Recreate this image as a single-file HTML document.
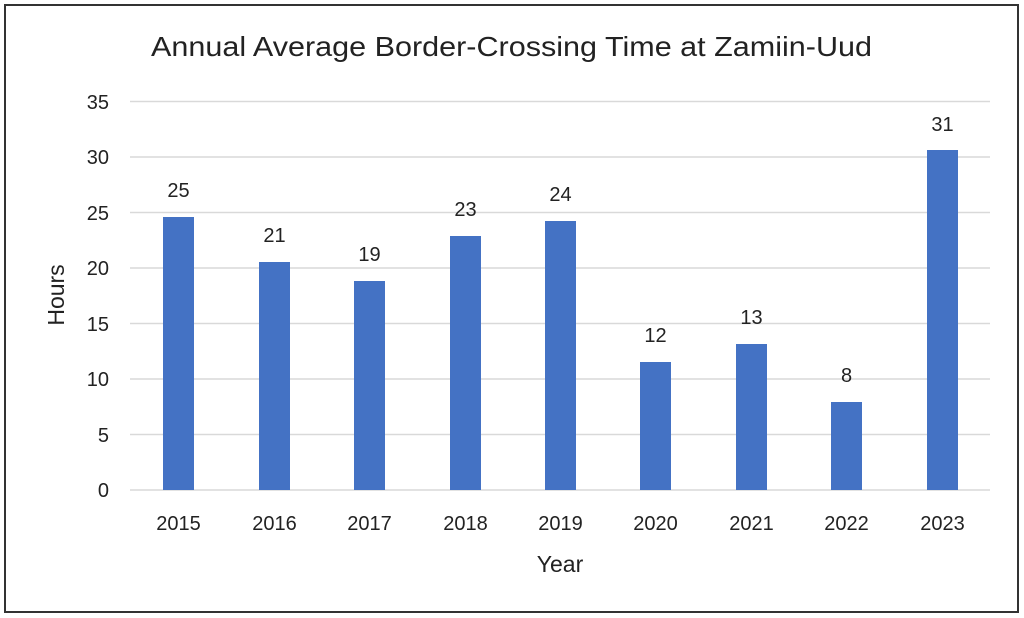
<!DOCTYPE html>
<html><head><meta charset="utf-8"><style>
html,body{margin:0;padding:0;background:#fff;}
svg{display:block;}
text{font-family:"Liberation Sans",sans-serif;fill:#222;}
</style></head><body>
<svg width="1024" height="618" viewBox="0 0 1024 618">
<rect x="0" y="0" width="1024" height="618" fill="#fff"/>
<rect x="5" y="5" width="1013" height="607" fill="none" stroke="#333" stroke-width="2"/>
<text x="151" y="56" font-size="28" textLength="721" lengthAdjust="spacingAndGlyphs">Annual Average Border-Crossing Time at Zamiin-Uud</text>
<g stroke="#d9d9d9" stroke-width="1.5">
<line x1="130" x2="990" y1="101.5" y2="101.5"/>
<line x1="130" x2="990" y1="157" y2="157"/>
<line x1="130" x2="990" y1="212.5" y2="212.5"/>
<line x1="130" x2="990" y1="268" y2="268"/>
<line x1="130" x2="990" y1="323.5" y2="323.5"/>
<line x1="130" x2="990" y1="379" y2="379"/>
<line x1="130" x2="990" y1="434.5" y2="434.5"/>
<line x1="130" x2="990" y1="490" y2="490"/>
</g>
<g font-size="20" text-anchor="end">
<text x="109" y="109">35</text><text x="109" y="164">30</text><text x="109" y="220">25</text>
<text x="109" y="275">20</text><text x="109" y="331">15</text><text x="109" y="386">10</text>
<text x="109" y="442">5</text><text x="109" y="497">0</text>
</g>
<text font-size="23" transform="translate(64,295) rotate(-90)" text-anchor="middle">Hours</text>
<g fill="#4472c4">
<rect x="163" y="217" width="31" height="273"/>
<rect x="259" y="262" width="31" height="228"/>
<rect x="354" y="281" width="31" height="209"/>
<rect x="450" y="236" width="31" height="254"/>
<rect x="545" y="221" width="31" height="269"/>
<rect x="640" y="362" width="31" height="128"/>
<rect x="736" y="344" width="31" height="146"/>
<rect x="831" y="402" width="31" height="88"/>
<rect x="927" y="150" width="31" height="340"/>
</g>
<g font-size="20" text-anchor="middle">
<text x="178.5" y="197">25</text><text x="274.5" y="242">21</text><text x="369.5" y="261">19</text>
<text x="465.5" y="216">23</text><text x="560.5" y="201">24</text><text x="655.5" y="342">12</text>
<text x="751.5" y="324">13</text><text x="846.5" y="382">8</text><text x="942.5" y="131">31</text>
</g>
<g font-size="20" text-anchor="middle">
<text x="178.5" y="530">2015</text><text x="274.5" y="530">2016</text><text x="369.5" y="530">2017</text>
<text x="465.5" y="530">2018</text><text x="560.5" y="530">2019</text><text x="655.5" y="530">2020</text>
<text x="751.5" y="530">2021</text><text x="846.5" y="530">2022</text><text x="942.5" y="530">2023</text>
</g>
<text x="560" y="572" font-size="23" text-anchor="middle">Year</text>
</svg>
</body></html>
